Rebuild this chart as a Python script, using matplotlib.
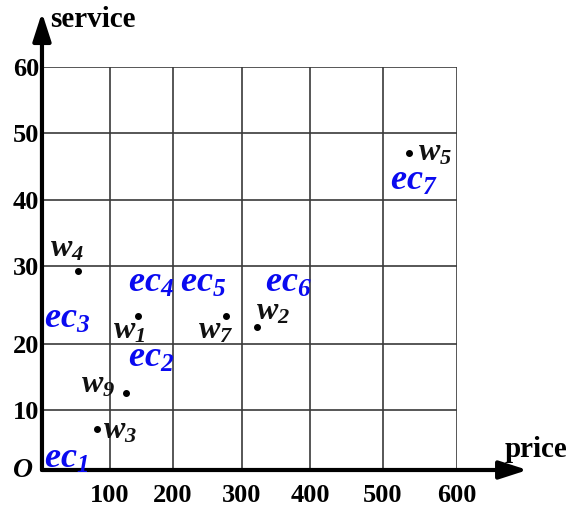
import numpy as np
import matplotlib
matplotlib.use("Agg")
import matplotlib.pyplot as plt

plt.rcParams['font.family'] = ['Liberation Serif', 'DejaVu Serif']
plt.rcParams['mathtext.fontset'] = 'custom'
plt.rcParams['mathtext.rm'] = 'Liberation Serif:bold'
plt.rcParams['mathtext.it'] = 'Liberation Serif:italic:bold'
# bf used for bold italic letters and digits alike
plt.rcParams['mathtext.bf'] = 'Liberation Serif:italic:bold'

# services: price / service values
w_names = ['w1', 'w2', 'w3', 'w4', 'w5', 'w7', 'w9']
w_price = [144, 322, 81, 53, 535, 277, 125]
w_service = [23.6, 22.2, 6.8, 29.4, 47, 23.6, 12.6]

# ec labels (cluster names) and where they sit
ec_names = ['ec1', 'ec2', 'ec3', 'ec4', 'ec5', 'ec6', 'ec7']
ec_price = [3, 129, 3, 129, 210, 334, 509]
ec_service = [0.3, 16.5, 22.1, 26.7, 26.7, 26.7, 41.5]

xticks = [0, 100, 200, 300, 400, 500, 600]
yticks = [0, 10, 20, 30, 40, 50, 60]

# the hand drawn grid is not evenly spaced
x_grid = [0, 68, 131, 200, 268, 341, 415]
y_grid = [0, 60, 126, 204, 270, 337, 403]

# label offsets (points) of each w label from its dot
w_offsets = [(-18, -16), (-1, 5), (4, -6.5), (-20, 10), (6.5, -5), (-20, -16), (-32, 0)]

fig = plt.figure(figsize=(5.68, 5.08), dpi=100)
ax = fig.add_axes([0.0739, 0.0748, 0.7306, 0.7933])
ax.set_xscale('function', functions=(lambda v: np.interp(v, xticks, x_grid),
                                     lambda v: np.interp(v, x_grid, xticks)))
ax.set_yscale('function', functions=(lambda v: np.interp(v, yticks, y_grid),
                                     lambda v: np.interp(v, y_grid, yticks)))
ax.set_xlim(0, 600)
ax.set_ylim(0, 60)

for x in xticks[1:]:
    ax.axvline(x, color='#3a3a3a', lw=1.2, zorder=1)
for y in yticks[1:]:
    ax.axhline(y, color='#3a3a3a', lw=1.2, zorder=1)

for s in ['top', 'right', 'left', 'bottom']:
    ax.spines[s].set_visible(False)

ax.set_xticks(xticks[1:])
ax.set_yticks(yticks[1:])
ax.set_xticklabels([str(v) for v in xticks[1:]], fontsize=19, fontweight='bold')
ax.set_yticklabels([str(v) for v in yticks[1:]], fontsize=19, fontweight='bold')
ax.tick_params(axis='x', length=0, pad=10)
ax.tick_params(axis='y', length=0, pad=2)
ax.minorticks_off()

# axes with arrows
arrow = dict(arrowstyle='-|>,head_length=1.7,head_width=0.55', lw=3, color='black',
             shrinkA=0, shrinkB=0)
ax.annotate('', xy=(0, 1.135), xytext=(0, 0), xycoords='axes fraction',
            arrowprops=arrow, annotation_clip=False)
ax.annotate('', xy=(1.17, 0), xytext=(0, 0), xycoords='axes fraction',
            arrowprops=arrow, annotation_clip=False)
ax.text(0.02, 1.117, 'service', transform=ax.transAxes, fontsize=21, fontweight='bold',
        va='center', ha='left')
ax.text(1.116, 0.05, 'price', transform=ax.transAxes, fontsize=21, fontweight='bold',
        va='center', ha='left')
ax.text(-0.022, -0.002, 'O', transform=ax.transAxes, fontsize=20, fontweight='bold',
        fontstyle='italic', va='center', ha='right')

ax.plot(w_price, w_service, 'o', color='black', markersize=4, clip_on=False, zorder=3)
for name, x, y, off in zip(w_names, w_price, w_service, w_offsets):
    ax.annotate(r'$\mathbf{%s}_{\mathbf{%s}}$' % (name[0], name[1:]), (x, y), xytext=off,
                textcoords='offset points', fontsize=23, color='#111111',
                va='baseline', ha='left')

for name, x, y in zip(ec_names, ec_price, ec_service):
    ax.text(x, y, r'$\mathbf{%s}_{\mathbf{%s}}$' % (name[:2], name[2:]), fontsize=26,
            color='#0a0af0', va='baseline', ha='left')

fig.savefig('out.png', dpi=100)
